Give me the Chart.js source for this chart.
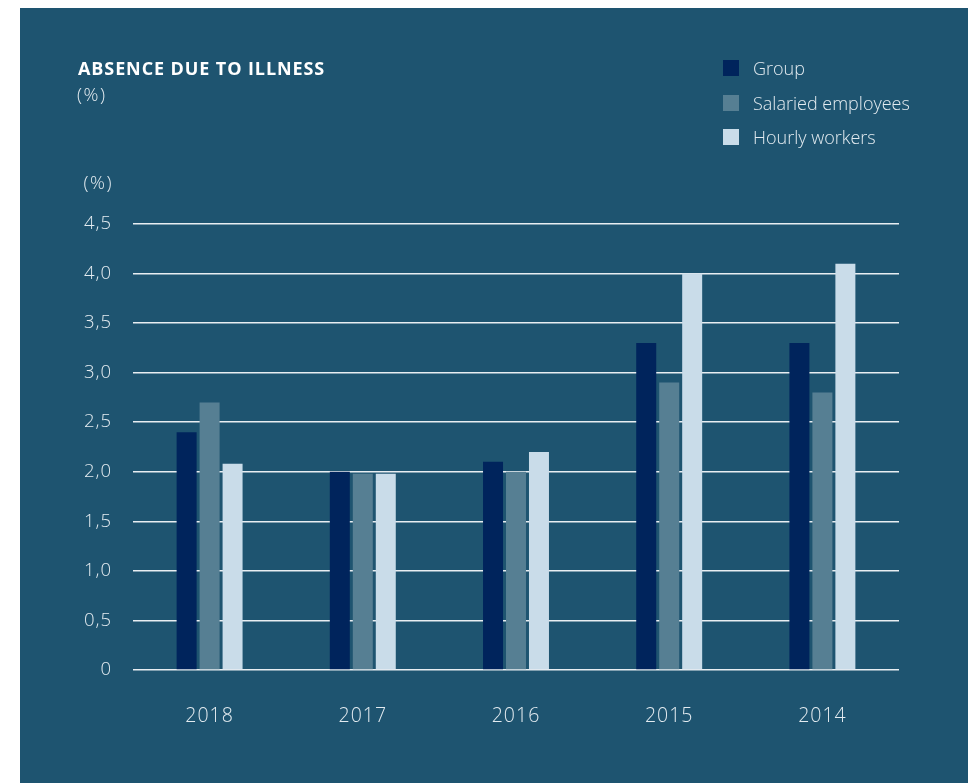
<!DOCTYPE html>
<html>
<head>
<meta charset="utf-8">
<script src="https://cdn.jsdelivr.net/npm/chart.js@4.4.1/dist/chart.umd.min.js"></script>
<style>
  html, body { margin: 0; padding: 0; background: #ffffff; width: 968px; height: 783px; overflow: hidden; }
  #panel { position: absolute; left: 20px; top: 8px; width: 948px; height: 775px; background: #1e5470; }
  #wrap { position: absolute; left: 0; top: 0; width: 968px; height: 783px; }
  .txt { position: absolute; font-family: "Open Sans", "Noto Sans", sans-serif; color: #e3ebf0; white-space: nowrap; line-height: normal; }
  #title { left: 78px; top: 56px; font-size: 18px; font-weight: 700; color: #ffffff; letter-spacing: 0.9px; }
  #unit { left: 77px; top: 81px; font-size: 18.5px; font-weight: 300; letter-spacing: 1.5px; }
  #axisUnit { left: 50px; width: 63px; text-align: right; top: 169px; font-size: 18.5px; font-weight: 300; letter-spacing: 1.5px; }
  #legend { position: absolute; left: 723px; top: 57px; }
  .li { position: relative; height: 34.7px; }
  .sw { position: absolute; left: 0; top: 3px; width: 16px; height: 16px; }
  .lt { position: absolute; left: 30px; top: -1px; font-family: "Open Sans", "Noto Sans", sans-serif; font-size: 18px; font-weight: 300; color: #e3ebf0; white-space: nowrap; line-height: normal; }
</style>
</head>
<body>
<div id="panel"></div>
<div id="wrap"><canvas id="c" width="968" height="783"></canvas></div>
<div class="txt" id="title">ABSENCE DUE TO ILLNESS</div>
<div class="txt" id="unit">(%)</div>
<div class="txt" id="axisUnit">(%)</div>
<div id="legend"></div>
<script>
const categories = ["2018", "2017", "2016", "2015", "2014"];
const seriesNames = ["Group", "Salaried employees", "Hourly workers"];
const groupValues = [2.4, 2.0, 2.1, 3.3, 3.3];
const salariedValues = [2.7, 1.98, 2.0, 2.9, 2.8];
const hourlyValues = [2.08, 1.98, 2.2, 4.0, 4.1];
const yTicks = [0, 0.5, 1.0, 1.5, 2.0, 2.5, 3.0, 3.5, 4.0, 4.5];
const seriesColors = ["#00245c", "#567f93", "#c9dce9"];

const seriesValues = [groupValues, salariedValues, hourlyValues];

const legend = document.getElementById('legend');
seriesNames.forEach((name, i) => {
  const row = document.createElement('div');
  row.className = 'li';
  row.innerHTML = '<div class="sw" style="background:' + seriesColors[i] + '"></div><div class="lt">' + name + '</div>';
  legend.appendChild(row);
});

const fontFamily = '"Open Sans", "Noto Sans", sans-serif';

const c = document.getElementById('c');
c.style.letterSpacing = '1px';

new Chart(c, {
  type: 'bar',
  data: {
    labels: categories,
    datasets: seriesNames.map((name, i) => ({
      label: name,
      data: seriesValues[i],
      backgroundColor: seriesColors[i],
      borderWidth: 0,
      categoryPercentage: 0.45,
      barPercentage: 0.87
    }))
  },
  options: {
    responsive: false,
    animation: false,
    devicePixelRatio: 1,
    layout: { padding: { left: 0, top: 224, right: 69, bottom: 0 } },
    plugins: { legend: { display: false }, tooltip: { enabled: false }, title: { display: false } },
    scales: {
      x: {
        grid: { display: false, drawTicks: false },
        border: { display: false },
        ticks: {
          color: '#e3ebf0',
          padding: 35,
          font: { family: fontFamily, size: 19.5, weight: 300 }
        },
        afterFit: (s) => { s.height = 113; }
      },
      y: {
        min: 0,
        max: 4.5,
        afterBuildTicks: (s) => { s.ticks = yTicks.map(v => ({ value: v })); },
        grid: { color: '#e8eef2', lineWidth: 1.5, drawTicks: false },
        border: { display: false },
        ticks: {
          color: '#e3ebf0',
          padding: 21,
          font: { family: fontFamily, size: 18.5, weight: 300 },
          callback: (v) => v === 0 ? '0' : Number(v).toFixed(1).replace('.', ',')
        },
        afterFit: (s) => { s.width = 133; }
      }
    }
  }
});
</script>
</body>
</html>
